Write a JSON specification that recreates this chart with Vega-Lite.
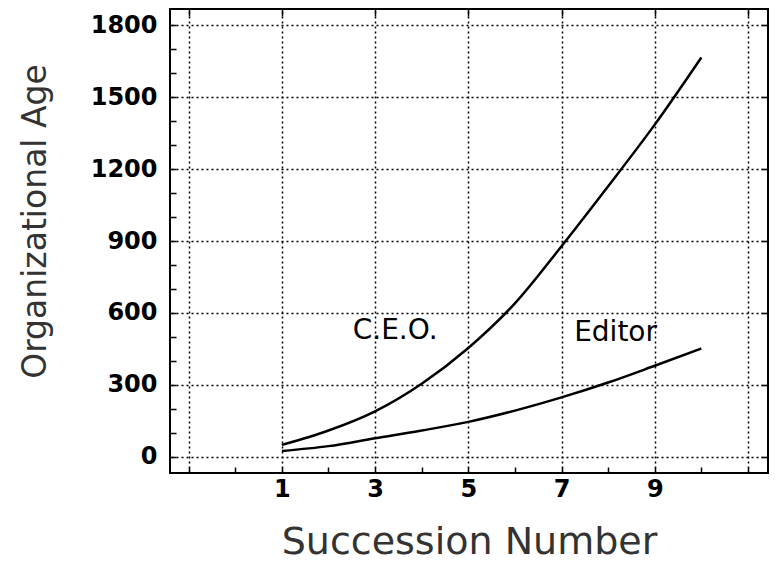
{
  "$schema": "https://vega.github.io/schema/vega-lite/v6.json",
  "width": 598,
  "height": 464,
  "autosize": "none",
  "padding": {"left": 170, "top": 9, "right": 10, "bottom": 100},
  "background": "white",
  "config": {
    "view": {"stroke": "black", "strokeWidth": 2},
    "font": "DejaVu Sans"
  },
  "datasets": {
    "curves": [
      {"succession": 1, "age": 50, "series": "C.E.O."},
      {"succession": 2, "age": 110, "series": "C.E.O."},
      {"succession": 3, "age": 190, "series": "C.E.O."},
      {"succession": 4, "age": 305, "series": "C.E.O."},
      {"succession": 5, "age": 454, "series": "C.E.O."},
      {"succession": 6, "age": 640, "series": "C.E.O."},
      {"succession": 7, "age": 878, "series": "C.E.O."},
      {"succession": 8, "age": 1128, "series": "C.E.O."},
      {"succession": 9, "age": 1385, "series": "C.E.O."},
      {"succession": 10, "age": 1665, "series": "C.E.O."},
      {"succession": 1, "age": 25, "series": "Editor"},
      {"succession": 2, "age": 45, "series": "Editor"},
      {"succession": 3, "age": 78, "series": "Editor"},
      {"succession": 4, "age": 110, "series": "Editor"},
      {"succession": 5, "age": 146, "series": "Editor"},
      {"succession": 6, "age": 193, "series": "Editor"},
      {"succession": 7, "age": 248, "series": "Editor"},
      {"succession": 8, "age": 310, "series": "Editor"},
      {"succession": 9, "age": 380, "series": "Editor"},
      {"succession": 10, "age": 452, "series": "Editor"}
    ],
    "labels": [
      {"succession": 3.43, "age": 525, "label": "C.E.O."},
      {"succession": 8.16, "age": 517, "label": "Editor"}
    ]
  },
  "layer": [
    {
      "data": {"name": "curves"},
      "mark": {"type": "line", "color": "black", "strokeWidth": 2.5, "interpolate": "monotone"},
      "encoding": {
        "x": {
          "field": "succession", "type": "quantitative",
          "scale": {"domain": [-1.4, 11.43], "nice": false, "zero": false},
          "axis": {
            "orient": "bottom",
            "values": [-1, -0.5, 0, 0.5, 1, 1.5, 2, 2.5, 3, 3.5, 4, 4.5, 5, 5.5, 6, 6.5, 7, 7.5, 8, 8.5, 9, 9.5, 10, 10.5, 11],
            "format": "d",
            "labelExpr": "(datum.value == 1 || datum.value == 3 || datum.value == 5 || datum.value == 7 || datum.value == 9) ? format(datum.value, 'd') : ''",
            "labelOverlap": false,
            "labelFlush": false,
            "grid": false,
            "domain": false,
            "ticks": true,
            "tickSize": -6,
            "tickColor": "black",
            "tickWidth": 1.5,
            "labelPadding": 10,
            "labelFont": "DejaVu Sans",
            "labelFontWeight": "bold",
            "labelFontSize": 24,
            "labelColor": "black",
            "title": "Succession Number",
            "titleFont": "DejaVu Sans",
            "titleFontWeight": "normal",
            "titleFontSize": 38,
            "titleColor": "#333",
            "titleY": 80,
            "titleBaseline": "alphabetic"
          }
        },
        "y": {
          "field": "age", "type": "quantitative",
          "scale": {"domain": [-67, 1867], "nice": false, "zero": false},
          "axis": {
            "orient": "left",
            "values": [0, 100, 200, 300, 400, 500, 600, 700, 800, 900, 1000, 1100, 1200, 1300, 1400, 1500, 1600, 1700, 1800],
            "labelExpr": "datum.value % 300 == 0 ? format(datum.value, 'd') : ''",
            "format": "d",
            "labelOverlap": false,
            "labelFlush": false,
            "grid": false,
            "domain": false,
            "ticks": true,
            "tickSize": -6,
            "tickColor": "black",
            "tickWidth": 1.5,
            "labelPadding": 19,
            "labelFont": "DejaVu Sans",
            "labelFontWeight": "bold",
            "labelFontSize": 24,
            "labelColor": "black",
            "title": "Organizational Age",
            "titleFont": "DejaVu Sans",
            "titleFontWeight": "normal",
            "titleFontSize": 33,
            "titleColor": "#333",
            "titleX": -135,
            "titleY": 212,
            "titleBaseline": "middle",
            "titleAngle": -90
          }
        },
        "detail": {"field": "series"}
      }
    },
    {
      "data": {"name": "labels"},
      "mark": {"type": "text", "font": "DejaVu Sans", "fontSize": 28, "color": "black", "align": "center", "baseline": "middle"},
      "encoding": {
        "x": {
          "field": "succession", "type": "quantitative",
          "axis": {
            "orient": "top",
            "values": [-1, 1, 3, 5, 7, 9, 11],
            "grid": true,
            "gridColor": "black",
            "gridDash": [2, 3],
            "gridWidth": 1.5,
            "gridOpacity": 1,
            "labels": false,
            "ticks": true,
            "tickSize": -7,
            "tickColor": "black",
            "tickWidth": 1.5,
            "domain": false,
            "title": null
          }
        },
        "y": {
          "field": "age", "type": "quantitative",
          "axis": {
            "orient": "right",
            "values": [0, 300, 600, 900, 1200, 1500, 1800],
            "grid": true,
            "gridColor": "black",
            "gridDash": [2, 3],
            "gridWidth": 1.5,
            "gridOpacity": 1,
            "labels": false,
            "ticks": true,
            "tickSize": -7,
            "tickColor": "black",
            "tickWidth": 1.5,
            "domain": false,
            "title": null
          }
        },
        "text": {"field": "label"}
      }
    }
  ],
  "resolve": {"axis": {"x": "independent", "y": "independent"}}
}
